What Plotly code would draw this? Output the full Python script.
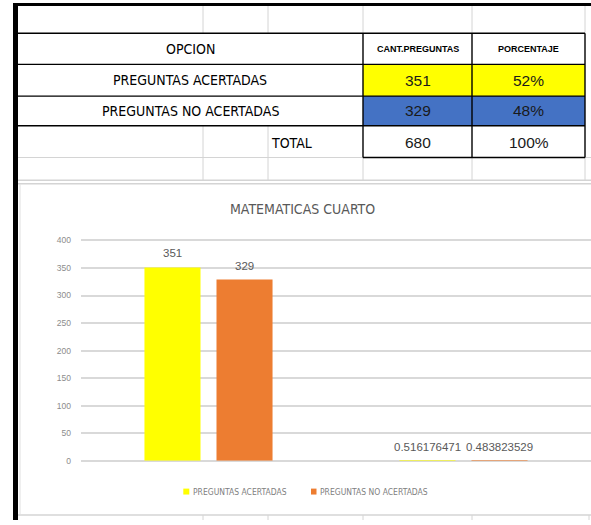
import plotly.graph_objects as go

# ---------------- data ----------------
opciones = ["PREGUNTAS ACERTADAS", "PREGUNTAS NO ACERTADAS"]
cant_preguntas = [351, 329]
porcentaje = [0.516176471, 0.483823529]
total_label = "TOTAL"
header = ["OPCION", "CANT.PREGUNTAS", "PORCENTAJE"]
chart_title = "MATEMATICAS CUARTO"
chart_categories = ["CANT.PREGUNTAS", "PORCENTAJE"]
serie_acertadas = [cant_preguntas[0], porcentaje[0]]
serie_no_acertadas = [cant_preguntas[1], porcentaje[1]]
y_ticks = [0, 50, 100, 150, 200, 250, 300, 350, 400]

# ---------------- layout helpers ----------------
W, H = 591, 525
NARROW = "DejaVu Sans Condensed, Liberation Sans Narrow, Arial Narrow, Roboto Condensed, sans-serif"
REG = "Liberation Sans, Arial, sans-serif"
YELLOW = "#FFFF00"
ORANGE = "#ED7D31"
BLUE = "#4472C4"
GRID = "#D4D4D4"


def px(x):
    return x / W


def py(y):
    return 1 - y / H


shapes = []
annotations = []


def rect(x0, y0, x1, y1, fill, layer="below"):
    shapes.append(dict(type="rect", xref="paper", yref="paper",
                       x0=px(x0), x1=px(x1), y0=py(y1), y1=py(y0),
                       fillcolor=fill, line=dict(width=0), layer=layer))


def line(x0, y0, x1, y1, color, width=1, layer="above"):
    shapes.append(dict(type="line", xref="paper", yref="paper",
                       x0=px(x0), x1=px(x1), y0=py(y0), y1=py(y1),
                       line=dict(color=color, width=width), layer=layer))


def text(x, y, s, size, color="#000000", family=NARROW, xanchor="center"):
    annotations.append(dict(xref="paper", yref="paper", x=px(x), y=py(y),
                            text=s, showarrow=False, xanchor=xanchor,
                            yanchor="middle",
                            font=dict(size=size, color=color, family=family)))


# ---------------- spreadsheet table ----------------
col_x = [203, 268, 363, 472, 585]
row_y = [33.5, 65, 97, 127, 159]

# coloured cells
rect(363, row_y[1], 585, row_y[2], YELLOW)
rect(363, row_y[2], 585, row_y[3], BLUE)

# light sheet gridlines
for cx in col_x:
    line(cx, 6, cx, row_y[0], GRID)
    line(cx, row_y[4], cx, 182, GRID)
    line(cx + (4 if cx == 585 else 0), 520, cx + (4 if cx == 585 else 0), 525, GRID)
for cx in col_x[:2]:
    line(cx, row_y[3], cx, row_y[4], GRID)
line(18, row_y[4], 363, row_y[4], GRID)
line(585, row_y[4], 591, row_y[4], GRID)
line(18, 182, 591, 182, GRID, 1.5)
line(18, 185.5, 591, 185.5, GRID, 1.5)
line(18, 520, 591, 520, GRID, 1.5)
line(20, 186, 20, 520, "#E0E0E0")

# black table borders
line(15, row_y[0], 585, row_y[0], "#000000", 1.6)
for ry in row_y[1:4]:
    line(15, ry, 585, ry, "#000000", 1.4)
line(363, row_y[4], 585, row_y[4], "#000000", 1.4)
for cx in (363, 472, 585):
    line(cx, row_y[0], cx, row_y[4], "#000000", 1.4)

# thick outer frame
line(13, 4.5, 591, 4.5, "#000000", 3)
line(15.5, 3, 15.5, 525, "#000000", 5)

# table texts
text(190, 49.5, header[0], 14)
text(417.5, 49.5, "<b>" + header[1] + "</b>", 9, family=REG)
text(528.5, 49.5, "<b>" + header[2] + "</b>", 9, family=REG)
row_centres = [81, 112]
for i, name in enumerate(opciones):
    yc = row_centres[i]
    text(190, yc, name, 14)
    text(417.5, yc, str(cant_preguntas[i]), 15.5, "#1a1a1a", REG)
    text(528.5, yc, f"{porcentaje[i]:.0%}", 15.5, "#1a1a1a", REG)
total = sum(cant_preguntas)
text(291, 144, total_label, 14)
text(417.5, 144, str(total), 15.5, "#1a1a1a", REG)
text(528.5, 144, f"{sum(porcentaje):.0%}", 15.5, "#1a1a1a", REG)

# ---------------- chart ----------------
text(302, 211, chart_title, 14, "#595959")

fig = go.Figure()
fig.add_trace(go.Bar(name=opciones[0], x=chart_categories, y=serie_acertadas,
                     marker=dict(color=YELLOW, line=dict(width=0)),
                     showlegend=False))
fig.add_trace(go.Bar(name=opciones[1], x=chart_categories, y=serie_no_acertadas,
                     marker=dict(color=ORANGE, line=dict(width=0)),
                     showlegend=False))

# data labels placed through the axes
for serie, shift in ((serie_acertadas, -36), (serie_no_acertadas, 36)):
    for i, v in enumerate(serie):
        annotations.append(dict(xref="x", yref="y", x=i, y=v, xshift=shift,
                                yshift=6, text=f"{v:.9g}", showarrow=False,
                                yanchor="bottom", xanchor="center",
                                font=dict(size=11.5, color="#595959", family=REG)))

# legend (Excel style small squares)
rect(183.3, 493.3, 189.3, 499.3, YELLOW, "above")
rect(311, 493.3, 316.5, 499.3, ORANGE, "above")
text(190.7, 496.5, opciones[0], 8.5, "#808080", xanchor="left")
text(317.7, 496.5, opciones[1], 8.5, "#808080", xanchor="left")

# axis mapping: value 0 at y=465.3px, 400 at y=242.7px
PPU = (465.3 - 242.7) / 400
YMAX = 420
fig.update_layout(
    width=W, height=H, autosize=False,
    margin=dict(l=0, r=0, t=0, b=0),
    paper_bgcolor="white", plot_bgcolor="white",
    font=dict(family=NARROW, color="#000000"),
    barmode="group", bargap=0.435, bargroupgap=0.222,
    showlegend=False,
    xaxis=dict(domain=[px(81), 1.0], showticklabels=False, showgrid=False,
               zeroline=False, showline=False, ticks="", fixedrange=True),
    yaxis=dict(domain=[py(465.3), py(465.3 - YMAX * PPU)], range=[0, YMAX],
               tickvals=y_ticks, showgrid=True, gridcolor="#D9D9D9",
               gridwidth=1.5, zeroline=True, zerolinecolor="#D9D9D9",
               zerolinewidth=1.5, showline=False, ticks="",
               ticklabelstandoff=9, fixedrange=True,
               tickfont=dict(size=8.5, color="#8C8C8C", family=REG)),
    shapes=shapes,
    annotations=annotations,
)

fig.write_html("out.html",
               config={"displayModeBar": False},
               post_script="document.body.style.margin='0px';"
                           "document.body.style.overflow='hidden';")
